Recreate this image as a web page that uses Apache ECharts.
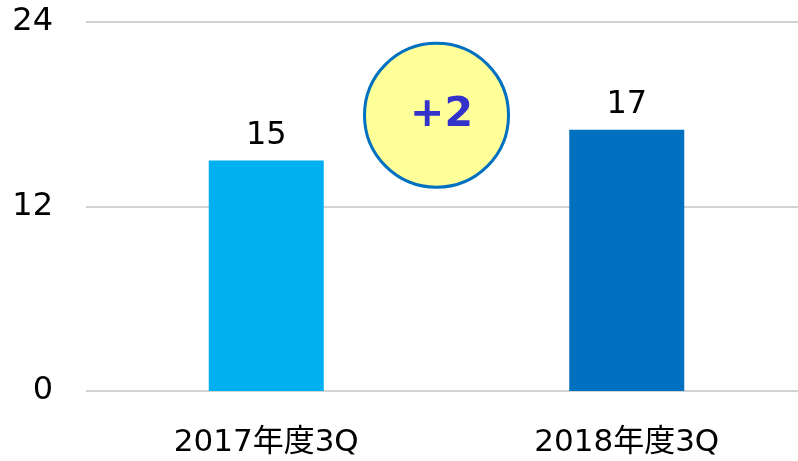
<!DOCTYPE html>
<html>
<head>
<meta charset="utf-8">
<script src="https://cdn.jsdelivr.net/npm/echarts@6/dist/echarts.min.js"></script>
<style>
  html, body { margin: 0; padding: 0; background: #fff; }
  #main { width: 798px; height: 461px; }
</style>
</head>
<body>
<div id="main"></div>
<script>
const categories = ['2017年度3Q', '2018年度3Q']
const values = [15, 17]
const barColors = ['#00B0F0', '#0070C0']
const yTicks = [0, 12, 24]

const font = '"DejaVu Sans", "Noto Sans CJK JP", sans-serif'
const chart = echarts.init(document.getElementById('main'))

chart.setOption({
  animation: false,
  grid: { left: 86, width: 721, top: 22, bottom: 70, outerBoundsMode: 'none', containLabel: false },
  xAxis: {
    type: 'category',
    data: categories,
    axisLine: { show: false },
    axisTick: { show: false },
    axisLabel: { color: '#000', fontFamily: font, fontSize: 31, margin: 36 }
  },
  yAxis: {
    type: 'value',
    min: yTicks[0],
    max: yTicks[yTicks.length - 1],
    interval: 12,
    axisLine: { show: false },
    axisTick: { show: false },
    axisLabel: { color: '#000', fontFamily: font, fontSize: 32, margin: 33 },
    splitLine: { lineStyle: { color: '#c4c4c4', width: 1.5 } }
  },
  series: [{
    type: 'bar',
    barWidth: 115,
    data: values.map((v, i) => ({ value: v, itemStyle: { color: barColors[i] } })),
    label: {
      show: true,
      position: 'top',
      distance: 9,
      color: '#000',
      fontFamily: font,
      fontSize: 32
    }
  }]
})

// 差分の丸い吹き出し
const p0 = chart.convertToPixel({ gridIndex: 0 }, [0, 18])
const p1 = chart.convertToPixel({ gridIndex: 0 }, [1, 18])
const cx = (p0[0] + p1[0]) / 2 - 10
const cy = p0[1] + 1
const diff = values[1] - values[0]

chart.setOption({
  graphic: [{
    type: 'circle',
    shape: { cx: cx, cy: cy, r: 72 },
    style: { fill: '#FFFF99', stroke: '#0070C0', lineWidth: 3 },
    z: 100
  }, {
    type: 'text',
    x: cx + 5,
    y: cy,
    style: {
      text: (diff > 0 ? '+' : '') + diff,
      fill: '#3333CC',
      font: 'bold 41px ' + font,
      align: 'center',
      verticalAlign: 'middle'
    },
    z: 101
  }]
})
</script>
</body>
</html>
